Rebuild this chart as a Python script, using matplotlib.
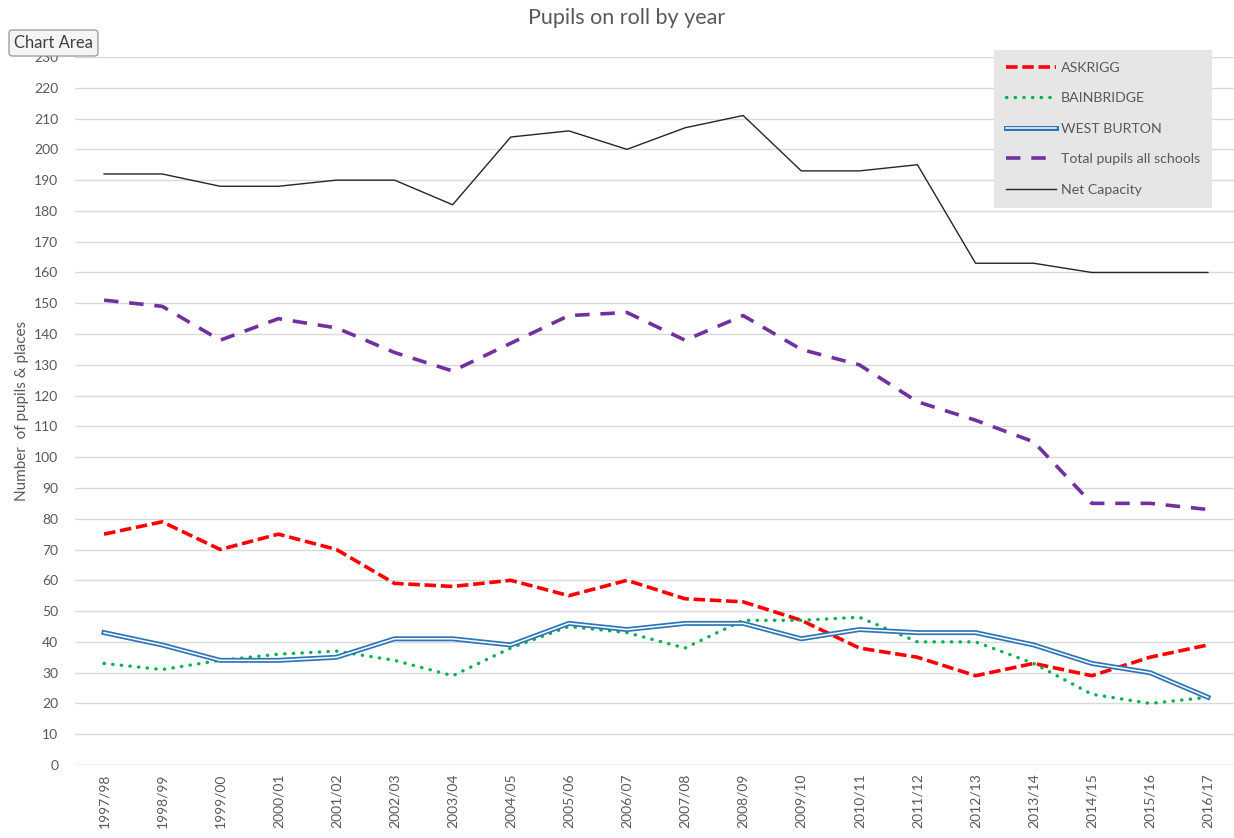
import matplotlib
matplotlib.use("Agg")
import matplotlib.pyplot as plt
import matplotlib.patheffects as pe

years = ["1997/98", "1998/99", "1999/00", "2000/01", "2001/02", "2002/03", "2003/04",
         "2004/05", "2005/06", "2006/07", "2007/08", "2008/09", "2009/10", "2010/11",
         "2011/12", "2012/13", "2013/14", "2014/15", "2015/16", "2016/17"]
askrigg = [75, 79, 70, 75, 70, 59, 58, 60, 55, 60, 54, 53, 47, 38, 35, 29, 33, 29, 35, 39]
bainbridge = [33, 31, 34, 36, 37, 34, 29, 38, 45, 43, 38, 47, 47, 48, 40, 40, 33, 23, 20, 22]
west_burton = [43, 39, 34, 34, 35, 41, 41, 39, 46, 44, 46, 46, 41, 44, 43, 43, 39, 33, 30, 22]
total = [151, 149, 138, 145, 142, 134, 128, 137, 146, 147, 138, 146, 135, 130, 118, 112, 105, 85, 85, 83]
net_capacity = [192, 192, 188, 188, 190, 190, 182, 204, 206, 200, 207, 211, 193, 193, 195,
                163, 163, 160, 160, 160]

plt.rcParams["font.family"] = ["Lato", "DejaVu Sans"]
txt = "#595959"

fig = plt.figure(figsize=(12.34, 8.38), dpi=100)
ax = fig.add_axes([75 / 1234, 73 / 838, 1162 / 1234, 708 / 838])

x = list(range(len(years)))
ax.plot(x, askrigg, color="#ff0000", lw=2.6, linestyle=(0, (3.2, 1.3)), label="ASKRIGG", zorder=3)
ax.plot(x, bainbridge, color="#00b050", lw=2.4, linestyle=(0, (0.1, 2.5)),
        dash_capstyle="round", label="BAINBRIDGE", zorder=3)
ax.plot(x, west_burton, color="white", lw=1.1, label="WEST BURTON", zorder=3,
        path_effects=[pe.Stroke(linewidth=3.6, foreground="#2e75b6"), pe.Normal()])
ax.plot(x, total, color="#7030a0", lw=2.6, linestyle=(0, (4.0, 3.0)),
        label="Total pupils all schools", zorder=3)
ax.plot(x, net_capacity, color="#262626", lw=1.0, label="Net Capacity", zorder=3)

ax.set_xlim(-0.5, len(years) - 0.5)
ax.set_ylim(0, 230)
ax.set_yticks(range(0, 231, 10))
ax.set_xticks(x)
ax.set_xticklabels(years, rotation=90, fontsize=10, color=txt)
ax.tick_params(axis="y", labelsize=10, labelcolor=txt, length=0, pad=12)
ax.tick_params(axis="x", length=0, pad=6)
ax.grid(axis="y", color="#d9d9d9", lw=1)
ax.set_axisbelow(True)
for s in ax.spines.values():
    s.set_visible(False)
ax.axhline(0, color="#d9d9d9", lw=1, zorder=1)

ax.set_ylabel("Number  of pupils & places", fontsize=11, color=txt, labelpad=4)
fig.text(0.508, 1 - 18 / 838, "Pupils on roll by year", ha="center", va="center",
         fontsize=15.5, color=txt)

leg = ax.legend(loc="upper left", bbox_to_anchor=(994 / 1234, 1 - 50 / 838),
                bbox_transform=fig.transFigure, fontsize=10.2, frameon=True,
                fancybox=False, handlelength=3.5, handletextpad=0.35,
                labelspacing=1.3, borderpad=0.85, borderaxespad=0)
leg.get_frame().set_facecolor("#e6e6e6")
leg.get_frame().set_edgecolor("none")
leg.get_frame().set_alpha(1)
for t in leg.get_texts():
    t.set_color(txt)

fig.text(14 / 1234, 1 - 43 / 838, "Chart Area", ha="left", va="center", fontsize=12,
         color="#404040",
         bbox=dict(boxstyle="round,pad=0.3,rounding_size=0.2", facecolor="#f4f4f6",
                   edgecolor="#8a8a8a", lw=0.8),
         zorder=10)

fig.savefig("out.png", dpi=100)
